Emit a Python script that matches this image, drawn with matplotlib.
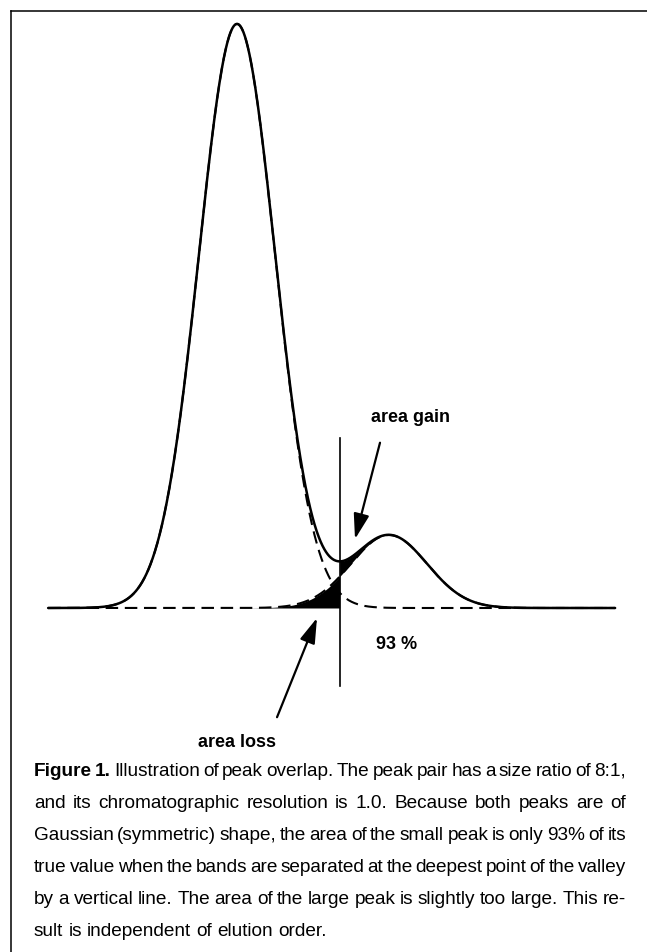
import numpy as np
import matplotlib
matplotlib.use('Agg')
import matplotlib.pyplot as plt
from matplotlib import font_manager
from matplotlib.lines import Line2D

# peak pair: size ratio 8:1, resolution 1.0 (centres 4 sigma apart)
peak_centers = [0.0, 4.0]
peak_heights = [1.0, 1.0 / 8.0]
peak_sigma = 1.0
t_range = [-4.97, 9.95]

caption_lines = [
    'Figure 1. Illustration of peak overlap. The peak pair has a size ratio of 8:1,',
    'and its chromatographic resolution is 1.0. Because both peaks are of',
    'Gaussian (symmetric) shape, the area of the small peak is only 93% of its',
    'true value when the bands are separated at the deepest point of the valley',
    'by a vertical line. The area of the large peak is slightly too large. This re-',
    'sult is independent of elution order.',
]

names = {f.name for f in font_manager.fontManager.ttflist}
if 'Liberation Sans Narrow' in names:
    cap_font = 'Liberation Sans Narrow'
else:
    cap_font = 'Liberation Sans'
label_font = 'Liberation Sans'

fig = plt.figure(figsize=(6.47, 9.52), dpi=100)
ax = fig.add_axes([0, 0, 1, 1])
ax.set_xlim(-6.237, 10.789)
ax.set_ylim(-0.589, 1.041)
ax.axis('off')

t = np.linspace(t_range[0], t_range[1], 3000)
big = peak_heights[0] * np.exp(-0.5 * ((t - peak_centers[0]) / peak_sigma) ** 2)
small = peak_heights[1] * np.exp(-0.5 * ((t - peak_centers[1]) / peak_sigma) ** 2)
total = big + small

# deepest point of the valley between the two peaks
between = (t > peak_centers[0]) & (t < peak_centers[1])
t_valley = t[between][np.argmin(total[between])]

left = t <= t_valley
right = t >= t_valley
ax.fill_between(t[left], 0, small[left], color='black', lw=0)
ax.fill_between(t[right], small[right], total[right], color='black', lw=0)

dash = (0, (6.0, 3.2))
ax.plot(t, big, color='black', lw=1.5, ls=dash)
ax.plot(t, small, color='black', lw=1.5, ls=dash)
ax.plot(t, total, color='black', lw=1.8, solid_capstyle='round')

ax.plot([t_valley, t_valley], [-0.134, 0.291], color='black', lw=1.2)

arrow = dict(arrowstyle='-|>,head_length=0.55,head_width=0.17', color='black',
             lw=1.6, mutation_scale=28, shrinkA=0, shrinkB=0)
ax.annotate('', xy=(3.105, 0.118), xytext=(3.763, 0.283), arrowprops=arrow)
ax.annotate('', xy=(2.105, -0.017), xytext=(1.053, -0.187), arrowprops=arrow)

lab = dict(family=label_font, fontweight='bold', fontsize=13, ha='center', va='center')
ax.text(4.553, 0.327, 'area gain', **lab)
ax.text(0.0, -0.231, 'area loss', **lab)
ax.text(4.21, -0.063, '93 %', **lab)

# frame around the figure
fig.add_artist(Line2D([11 / 647, 1.01], [1 - 11 / 952, 1 - 11 / 952],
                      transform=fig.transFigure, color='black', lw=1.1))
fig.add_artist(Line2D([11 / 647, 11 / 647], [1 - 11 / 952, -0.01],
                      transform=fig.transFigure, color='black', lw=1.1))

# justified caption
renderer = fig.canvas.get_renderer()
x_left, x_right = 34, 626
y_first, line_step = 771, 32
for i, line in enumerate(caption_lines):
    words = line.split(' ')
    y = 1 - (y_first + i * line_step) / 952
    arts = []
    for j, w in enumerate(words):
        bold = i == 0 and j < 2
        a = fig.text(0, y, w, family=cap_font, fontsize=13.7,
                     fontweight='bold' if bold else 'normal', va='center', ha='left')
        arts.append(a)
    widths = [a.get_window_extent(renderer).width for a in arts]
    if i < len(caption_lines) - 1:
        gap = (x_right - x_left - sum(widths)) / (len(words) - 1)
    else:
        sp = fig.text(0, 0, 'a a', family=cap_font, fontsize=13.7)
        sp2 = fig.text(0, 0, 'aa', family=cap_font, fontsize=13.7)
        gap = sp.get_window_extent(renderer).width - sp2.get_window_extent(renderer).width
        sp.remove()
        sp2.remove()
    x = x_left
    for a, w in zip(arts, widths):
        a.set_x(x / 647)
        x += w + gap

fig.savefig('out.png', dpi=100, facecolor='white')
